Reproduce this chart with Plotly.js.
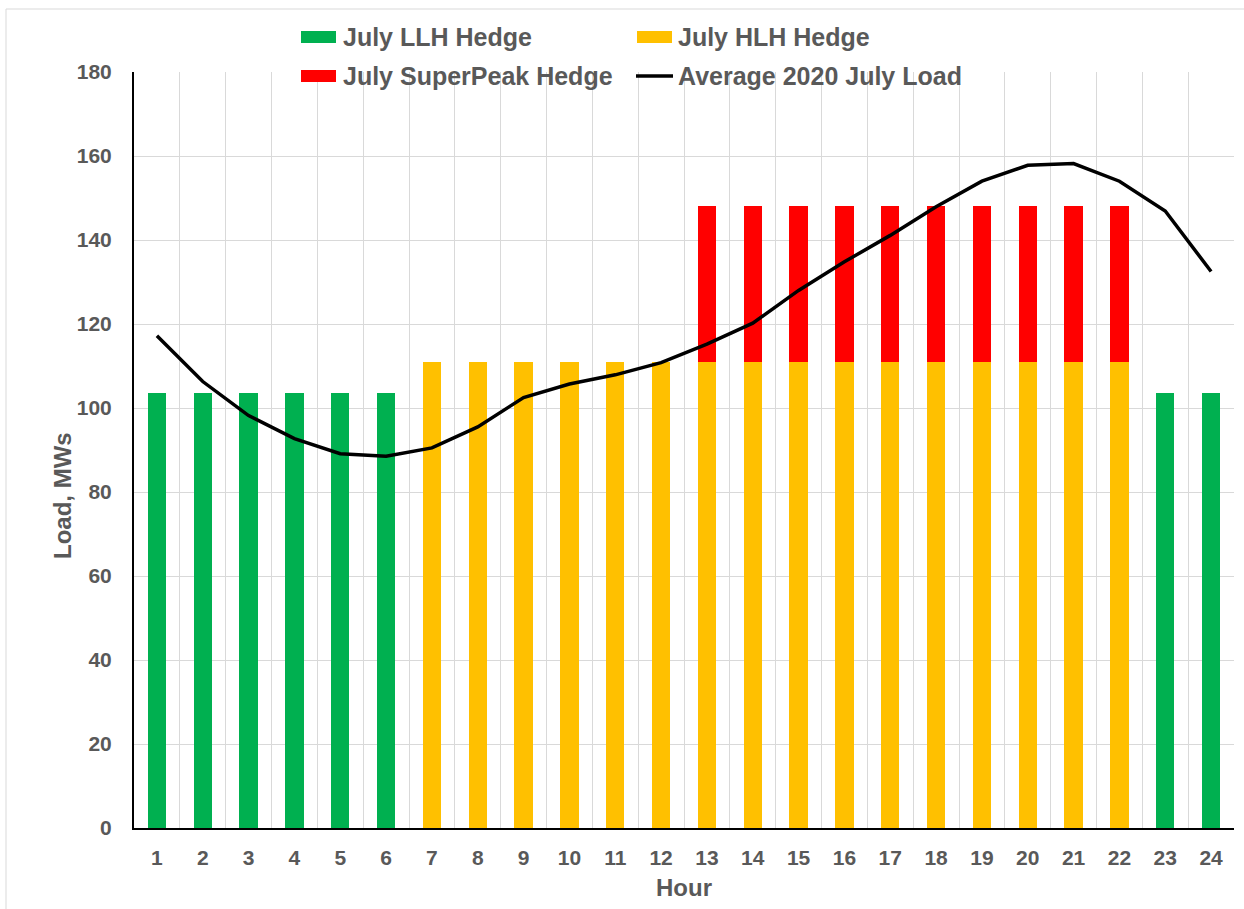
<!DOCTYPE html>
<html>
<head>
<meta charset="utf-8">
<script src="https://cdn.plot.ly/plotly-3.0.1.min.js"></script>
<style>
  html, body { margin: 0; padding: 0; background: #ffffff; }
  #chart { width: 1244px; height: 909px; }
</style>
</head>
<body>
<div id="chart"></div>
<script>
// ---- Data ----
const hours = ['1','2','3','4','5','6','7','8','9','10','11','12','13','14','15','16','17','18','19','20','21','22','23','24'];
const llhHedge = [103.6,103.6,103.6,103.6,103.6,103.6,null,null,null,null,null,null,null,null,null,null,null,null,null,null,null,null,103.6,103.6];
const hlhHedge = [null,null,null,null,null,null,111,111,111,111,111,111,111,111,111,111,111,111,111,111,111,111,null,null];
const superPeakHedge = [null,null,null,null,null,null,null,null,null,null,null,null,37,37,37,37,37,37,37,37,37,37,null,null];
const avgLoad = [117.2,106.3,98.2,92.7,89.1,88.5,90.5,95.5,102.5,105.7,107.9,110.8,115.2,120.2,128.0,134.8,141.1,147.9,154.0,157.8,158.2,154.0,146.9,132.5];
const seriesNames = ['July LLH Hedge','July HLH Hedge','July SuperPeak Hedge','Average 2020 July Load'];
const yTicks = [0,20,40,60,80,100,120,140,160,180];

const colors = { llh: '#00B050', hlh: '#FFC000', sp: '#FF0000', load: '#000000' };
const textColor = '#595959';
const font = 'Liberation Sans, Arial, Helvetica, sans-serif';

// ---- Layout geometry ----
const W = 1244, H = 909;
const M = { l: 134, r: 10, t: 72, b: 81 };
const pw = W - M.l - M.r, ph = H - M.t - M.b;
const px = x => (x - M.l) / pw;
const py = y => (H - M.b - y) / ph;

const traces = [
  { type: 'bar', x: hours, y: llhHedge, name: seriesNames[0], marker: { color: colors.llh }, showlegend: false },
  { type: 'bar', x: hours, y: hlhHedge, name: seriesNames[1], marker: { color: colors.hlh }, showlegend: false },
  { type: 'bar', x: hours, y: superPeakHedge, name: seriesNames[2], marker: { color: colors.sp }, showlegend: false },
  { type: 'scatter', mode: 'lines', x: hours, y: avgLoad, name: seriesNames[3], line: { color: colors.load, width: 3.5 }, showlegend: false }
];

// custom legend (2 x 2)
const legendItems = [
  { name: seriesNames[0], color: colors.llh, kind: 'box', sx: 301, tx: 341, y: 37 },
  { name: seriesNames[1], color: colors.hlh, kind: 'box', sx: 637, tx: 676, y: 37 },
  { name: seriesNames[2], color: colors.sp, kind: 'box', sx: 301, tx: 341, y: 76 },
  { name: seriesNames[3], color: colors.load, kind: 'line', sx: 636, tx: 676, y: 76 }
];
const shapes = [];
const annotations = [];
legendItems.forEach(it => {
  if (it.kind === 'box') {
    shapes.push({ type: 'rect', xref: 'paper', yref: 'paper',
      x0: px(it.sx), x1: px(it.sx + 35), y0: py(it.y - 6), y1: py(it.y + 6),
      fillcolor: it.color, line: { width: 0 } });
  } else {
    shapes.push({ type: 'line', xref: 'paper', yref: 'paper',
      x0: px(it.sx), x1: px(it.sx + 37), y0: py(it.y), y1: py(it.y),
      line: { color: it.color, width: 3.5 } });
  }
  annotations.push({ xref: 'paper', yref: 'paper', x: px(it.tx), y: py(it.y),
    xanchor: 'left', yanchor: 'middle', showarrow: false, text: it.name,
    font: { family: font, size: 25, color: textColor, weight: 'bold' } });
});
// y-axis title
annotations.push({ xref: 'paper', yref: 'paper', x: px(62), y: py(496),
  xanchor: 'center', yanchor: 'middle', showarrow: false, textangle: -90,
  text: 'Load, MWs', font: { family: font, size: 24, color: textColor, weight: 'bold' } });
// outer chart frame
shapes.push({ type: 'rect', xref: 'paper', yref: 'paper',
  x0: px(6), x1: px(1260), y0: py(930), y1: py(9),
  line: { color: '#d9d9d9', width: 1 }, fillcolor: 'rgba(0,0,0,0)', layer: 'below' });

const layout = {
  width: W, height: H,
  margin: M,
  paper_bgcolor: '#ffffff', plot_bgcolor: '#ffffff',
  barmode: 'stack',
  bargap: 0.6,
  showlegend: false,
  font: { family: font, color: textColor },
  xaxis: {
    type: 'category',
    range: [-0.5, 23.5],
    tickson: 'boundaries',
    showgrid: true, gridcolor: '#d9d9d9', gridwidth: 1,
    showline: true, linecolor: '#000000', linewidth: 2,
    ticks: '',
    ticklabelstandoff: 10,
    tickfont: { family: font, size: 21, color: textColor, weight: 'bold' },
    title: { text: 'Hour', standoff: 11, font: { family: font, size: 24, color: textColor, weight: 'bold' } },
    fixedrange: true
  },
  yaxis: {
    range: [0, 180],
    tickvals: yTicks,
    showgrid: true, gridcolor: '#d9d9d9', gridwidth: 1,
    zeroline: false,
    showline: true, linecolor: '#000000', linewidth: 2,
    ticks: '',
    ticklabelstandoff: 16,
    tickfont: { family: font, size: 21, color: textColor, weight: 'bold' },
    fixedrange: true
  },
  shapes: shapes,
  annotations: annotations
};

Plotly.newPlot('chart', traces, layout, { displayModeBar: false, staticPlot: true });
</script>
</body>
</html>
